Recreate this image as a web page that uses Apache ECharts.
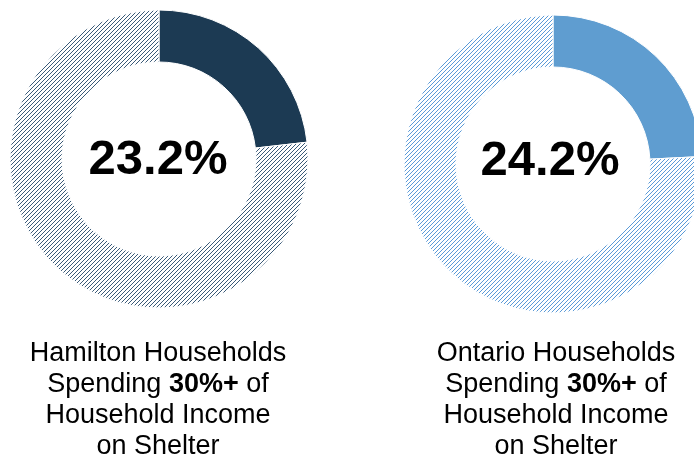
<!DOCTYPE html>
<html>
<head>
<meta charset="utf-8">
<script src="https://cdn.jsdelivr.net/npm/echarts@6/dist/echarts.min.js"></script>
<style>
  html, body { margin: 0; padding: 0; background: #ffffff; }
  #chart { width: 694px; height: 463px; }
</style>
</head>
<body>
<div id="chart"></div>
<script>
// Share of households spending 30%+ of income on shelter
const regions = ['Hamilton', 'Ontario'];
const sharePct = [23.2, 24.2];
const captionLines = [
  ['Hamilton Households', 'Spending {b|30%+} of', 'Household Income', 'on Shelter'],
  ['Ontario Households', 'Spending {b|30%+} of', 'Household Income', 'on Shelter']
];

const solidColors = ['#1c3a53', '#5f9dd0'];
const hatchColors = ['#3a5a78', '#5a9ad8'];

// Small repeating tile with "/" diagonal hatch lines
function hatchTile(color) {
  const size = 4;
  const c = document.createElement('canvas');
  c.width = size; c.height = size;
  const ctx = c.getContext('2d');
  ctx.fillStyle = '#ffffff';
  ctx.fillRect(0, 0, size, size);
  ctx.fillStyle = color;
  for (let i = 0; i < size; i++) {
    ctx.fillRect(i, size - 1 - i, 1, 1);
  }
  return c;
}

const centers = [[159, 159], [553, 164]];
const captionPos = [158, 556];
const valueOffset = [[-1, 1], [-3, -3]];

const series = regions.map((name, i) => ({
  type: 'pie',
  name: name,
  center: centers[i],
  radius: [97, 149],
  startAngle: 90,
  clockwise: true,
  silent: true,
  avoidLabelOverlap: false,
  labelLine: { show: false },
  data: [
    {
      name: name,
      value: sharePct[i],
      itemStyle: { color: solidColors[i], borderColor: '#ffffff', borderWidth: 1 },
      label: {
        show: true,
        position: 'center',
        offset: valueOffset[i],
        formatter: (p) => p.value.toFixed(1) + '%',
        fontFamily: 'Liberation Sans, Arial, sans-serif',
        fontWeight: 'bold',
        fontSize: 49,
        color: '#000000'
      }
    },
    {
      name: 'Other',
      value: +(100 - sharePct[i]).toFixed(1),
      itemStyle: {
        color: { image: hatchTile(hatchColors[i]), repeat: 'repeat' },
        borderColor: '#ffffff',
        borderWidth: 1
      },
      label: { show: false }
    }
  ]
}));

const titles = regions.map((name, i) => ({
  text: captionLines[i].join('\n'),
  left: captionPos[i],
  top: 338,
  textAlign: 'center',
  padding: 0,
  textStyle: {
    fontFamily: 'Liberation Sans, Arial, sans-serif',
    fontWeight: 'normal',
    fontSize: 27,
    lineHeight: 31,
    color: '#000000',
    rich: {
      b: {
        fontFamily: 'Liberation Sans, Arial, sans-serif',
        fontWeight: 'bold',
        fontSize: 27,
        lineHeight: 31,
        color: '#000000'
      }
    }
  }
}));

const chart = echarts.init(document.getElementById('chart'), null, { renderer: 'canvas' });
chart.setOption({
  animation: false,
  backgroundColor: '#ffffff',
  title: titles,
  series: series
});
</script>
</body>
</html>
